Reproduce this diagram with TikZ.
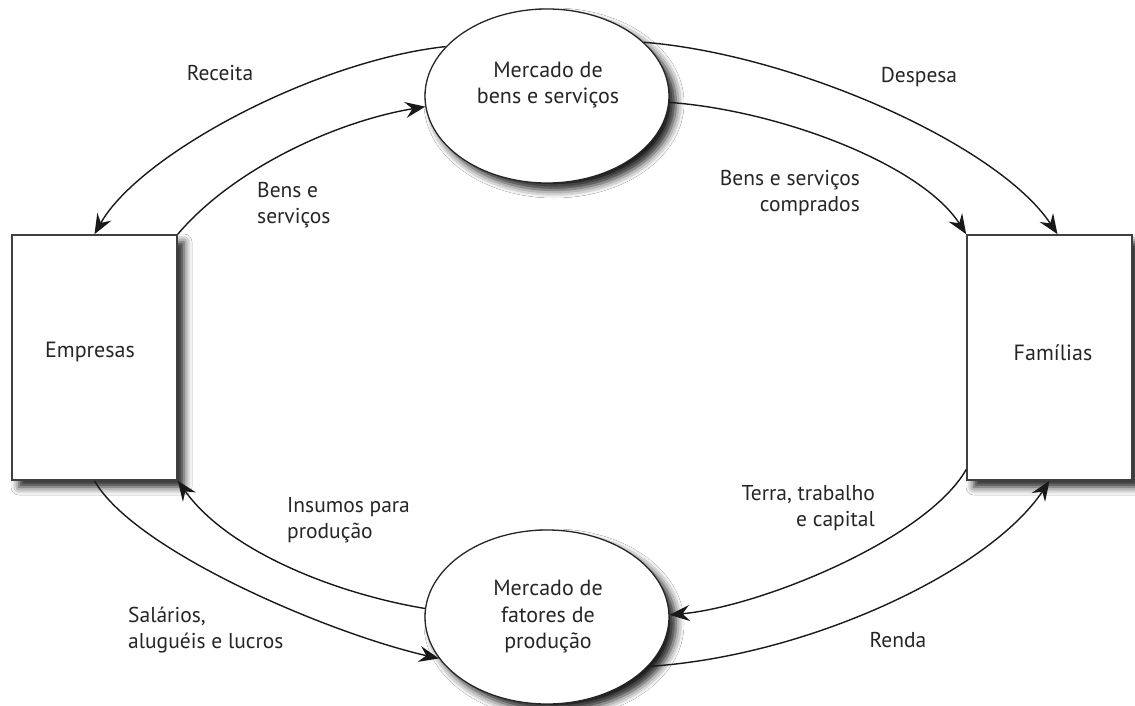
\documentclass[tikz,border=0pt]{standalone}
\usepackage{fontspec}
\setmainfont{PT Sans}
\usetikzlibrary{shapes.geometric,arrows.meta,shadows.blur}
\tikzset{
  box/.style={draw=black!75, line width=1.6pt, fill=white, minimum width=165pt, minimum height=245pt, inner sep=0pt,
    blur shadow={shadow xshift=7pt, shadow yshift=-7pt, shadow blur radius=8pt, shadow opacity=90}},
  mkt/.style={ellipse, draw=black!85, line width=1.3pt, fill=white, minimum width=244pt, minimum height=174pt, inner sep=0pt,
    blur shadow={shadow xshift=7pt, shadow yshift=-7pt, shadow blur radius=8pt, shadow opacity=90}},
  arr/.style={line width=1.4pt, draw=black!90, -{Stealth[length=20pt,width=16pt,inset=7pt]}},
  lbl/.style={font=\fontsize{21.5}{26}\selectfont, text=black!85, inner sep=0pt},
  txt/.style={font=\fontsize{22}{26.5}\selectfont, text=black!85, align=center}
}
\begin{document}
\begin{tikzpicture}[x=1pt,y=-1pt]
\useasboundingbox[fill=white] (0,0) rectangle (1135,706);
% nodes
\node[box] (emp) at (94.5,357.5) {};
\node[box] (fam) at (1049.5,357.5) {};
\node[mkt] (mb) at (547,96) {};
\node[mkt] (mf) at (547,617) {};
\node[txt] (tEmp) at (90,352) {Empresas};
\node[txt] (tFam) at (1053,353) {Famílias};
\node[txt] (tMb) at (548,85) {Mercado de\\bens e serviços};
\node[txt] (tMf) at (548,617) {Mercado de\\fatores de\\produção};
% connectors
\draw[arr] (mb.154) .. controls +(-130,14) and +(45,-80) .. (emp.north);
\draw[arr] (emp.north east) .. controls +(55,-65) and +(-90,15) .. (mb.185);
\draw[arr] (mb.29) .. controls +(150,12) and +(-60,-90) .. ([xshift=8pt]fam.north);
\draw[arr] (mb.357) .. controls +(110,8) and +(-45,-70) .. (fam.north west);
\draw[arr] ([yshift=-112pt]fam.west) .. controls +(-40,70) and +(90,-8) .. (mf.1);
\draw[arr] (mf.334) .. controls +(160,-10) and +(-60,90) .. (fam.south);
\draw[arr] (mf.176) .. controls +(-90,-15) and +(50,70) .. (emp.south east);
\draw[arr] (emp.south) .. controls +(40,70) and +(-110,-25) .. (mf.201);
% labels
\node[lbl] (lRec) at (220,73) {Receita};
\node[lbl, anchor=west, align=left] (lBens) at (257,205) {Bens e\\serviços};
\node[lbl] (lDes) at (919,77) {Despesa};
\node[lbl, anchor=east, align=right] (lComp) at (860,193) {Bens e serviços\\comprados};
\node[lbl, anchor=east, align=right] (lTerra) at (875,508) {Terra, trabalho\\e capital};
\node[lbl] (lRenda) at (898,640) {Renda};
\node[lbl, anchor=west, align=left] (lIns) at (287,520) {Insumos para\\produção};
\node[lbl, anchor=west, align=left] (lSal) at (128,630) {Salários,\\aluguéis e lucros};
\end{tikzpicture}
\end{document}
